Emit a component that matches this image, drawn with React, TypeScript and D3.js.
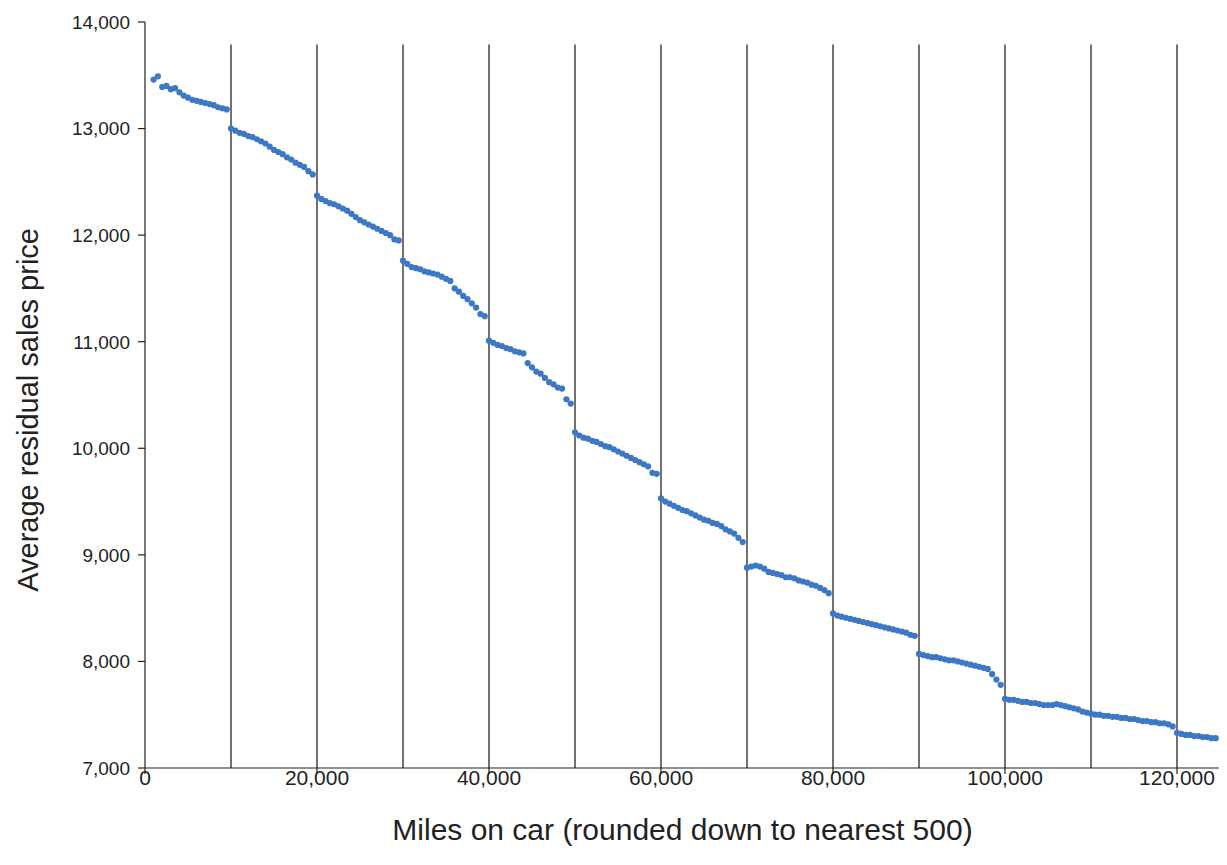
import React from "react";
import * as d3 from "d3";

// Average residual sales price by mileage bucket (500-mile steps), one array per 10,000-mile band
const band0 = [13460, 13490, 13390, 13400, 13370, 13380, 13340, 13310, 13290, 13270, 13260, 13250, 13240, 13230, 13220, 13200, 13190, 13180];
const band0Start = 1000;
const band1 = [13000, 12980, 12960, 12950, 12930, 12920, 12900, 12880, 12860, 12830, 12800, 12780, 12760, 12730, 12710, 12680, 12660, 12640, 12600, 12570];
const band2 = [12370, 12340, 12320, 12300, 12290, 12270, 12250, 12230, 12200, 12170, 12140, 12120, 12100, 12080, 12060, 12040, 12020, 12000, 11960, 11950];
const band3 = [11760, 11730, 11700, 11690, 11680, 11660, 11650, 11640, 11630, 11610, 11590, 11570, 11500, 11470, 11430, 11400, 11360, 11320, 11260, 11240];
const band4 = [11010, 10990, 10970, 10960, 10940, 10930, 10910, 10900, 10890, 10800, 10760, 10720, 10700, 10660, 10620, 10600, 10570, 10560, 10460, 10420];
const band5 = [10150, 10120, 10100, 10090, 10070, 10060, 10040, 10020, 10010, 9990, 9970, 9950, 9930, 9910, 9890, 9870, 9850, 9830, 9770, 9760];
const band6 = [9530, 9500, 9480, 9460, 9440, 9420, 9410, 9390, 9370, 9350, 9330, 9320, 9300, 9290, 9270, 9240, 9220, 9200, 9160, 9120];
const band7 = [8880, 8890, 8900, 8890, 8870, 8840, 8830, 8820, 8810, 8790, 8790, 8780, 8760, 8750, 8740, 8720, 8710, 8690, 8670, 8640];
const band8 = [8450, 8430, 8420, 8410, 8400, 8390, 8380, 8370, 8360, 8350, 8340, 8330, 8320, 8310, 8300, 8290, 8280, 8270, 8250, 8240];
const band9 = [8070, 8060, 8050, 8040, 8040, 8030, 8020, 8010, 8010, 8000, 7990, 7980, 7970, 7960, 7950, 7940, 7930, 7880, 7830, 7780];
const band10 = [7650, 7640, 7640, 7630, 7620, 7620, 7610, 7610, 7600, 7590, 7590, 7590, 7600, 7590, 7580, 7570, 7560, 7550, 7530, 7520];
const band11 = [7510, 7500, 7500, 7490, 7490, 7480, 7480, 7470, 7470, 7460, 7460, 7450, 7440, 7440, 7430, 7430, 7420, 7420, 7410, 7390];
const band12 = [7330, 7320, 7310, 7310, 7300, 7300, 7290, 7290, 7280, 7280];

const bands = [band0, band1, band2, band3, band4, band5, band6, band7, band8, band9, band10, band11, band12];

// Discontinuity markers every 10,000 miles
const cutoffs = [10000, 20000, 30000, 40000, 50000, 60000, 70000, 80000, 90000, 100000, 110000, 120000];
const xTicks = [0, 20000, 40000, 60000, 80000, 100000, 120000];
const yTicks = [7000, 8000, 9000, 10000, 11000, 12000, 13000, 14000];

type Pt = { miles: number; price: number };
const points: Pt[] = [];
bands.forEach((band, b) => {
  const start = b === 0 ? band0Start : b * 10000;
  band.forEach((price, i) => points.push({ miles: start + i * 500, price }));
});

const W = 1227;
const H = 865;
const left = 145;
const top = 22;
const plotRight = 1220;
const plotBottom = 768;

export default function App() {
  const x = d3.scaleLinear().domain([0, 125000]).range([0, plotRight - left]);
  const y = d3.scaleLinear().domain([7000, 14000]).range([plotBottom - top, 0]);
  const fmt = d3.format(",");
  const font = "'Liberation Sans', Arial, Helvetica, sans-serif";
  const lineTop = y(13790);

  return (
    <svg width={W} height={H} style={{ display: "block", margin: "-8px" }}>
      <rect width={W} height={H} fill="#ffffff" />
      <g transform={`translate(${left},${top})`} fontFamily={font}>
        {cutoffs.map((c) => (
          <line key={c} x1={x(c)} x2={x(c)} y1={lineTop} y2={y(7000)} stroke="#111" strokeWidth={1.2} />
        ))}
        {points.map((p, i) => (
          <circle key={i} cx={x(p.miles)} cy={y(p.price)} r={3.1} fill="#3d78c6" />
        ))}
        <line x1={0} x2={0} y1={0} y2={y(7000)} stroke="#222" strokeWidth={1.2} />
        <line x1={0} x2={x(125000)} y1={y(7000)} y2={y(7000)} stroke="#222" strokeWidth={1.2} />
        {yTicks.map((t) => (
          <g key={t} transform={`translate(0,${y(t)})`}>
            <line x1={-7} x2={0} stroke="#222" strokeWidth={1.2} />
            <text x={-15} dy="0.36em" textAnchor="end" fontSize={19} fill="#222">
              {fmt(t)}
            </text>
          </g>
        ))}
        {xTicks.map((t) => (
          <g key={t} transform={`translate(${x(t)},${y(7000)})`}>
            <line y1={0} y2={6} stroke="#222" strokeWidth={1.2} />
            <text y={17} textAnchor="middle" fontSize={21} fill="#222">
              {fmt(t)}
            </text>
          </g>
        ))}
        <text x={x(62500)} y={y(7000) + 72} textAnchor="middle" fontSize={30} fill="#222">
          Miles on car (rounded down to nearest 500)
        </text>
        <text
          transform={`translate(${-107},${y(10360)}) rotate(-90)`}
          textAnchor="middle"
          fontSize={29}
          fill="#222"
        >
          Average residual sales price
        </text>
      </g>
    </svg>
  );
}
